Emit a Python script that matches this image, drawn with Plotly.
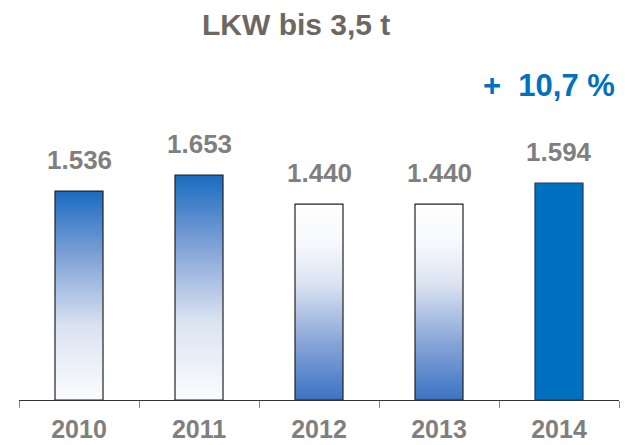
import plotly.graph_objects as go

years = ["2010", "2011", "2012", "2013", "2014"]
values = [1536, 1653, 1440, 1440, 1594]
# gradient style per bar: "down" = blue on top, "up" = blue at bottom, "solid"
styles = ["down", "down", "up", "up", "solid"]

BLUE = "#0070c0"
GRAY = "#7f7f7f"
FONT = "Liberation Sans, Arial, sans-serif"

GRAD_DOWN = [[0, "#fbfcfe"], [0.35, "#dbe3f1"], [0.7, "#7c9fd6"], [1, "#1a6bc0"]]
GRAD_UP = [[0, "#3a73c4"], [0.3, "#8aa6d8"], [0.6, "#dde4f2"], [0.8, "#f7f8fc"], [1, "#ffffff"]]


def de_num(v):
    # German thousands separator
    return f"{v:,}".replace(",", ".")


half = 0.2
fig = go.Figure()

for i, (v, st) in enumerate(zip(values, styles)):
    xs = [i - half, i + half, i + half, i - half, i - half]
    ys = [0, 0, v, v, 0]
    if st == "solid":
        fig.add_trace(go.Scatter(
            x=xs, y=ys, mode="lines", fill="toself", fillcolor=BLUE,
            line=dict(color="#1b3a66", width=1.2), hoverinfo="skip",
            showlegend=False))
    else:
        fig.add_trace(go.Scatter(
            x=xs, y=ys, mode="lines", fill="toself",
            fillgradient=dict(type="vertical",
                              colorscale=GRAD_DOWN if st == "down" else GRAD_UP,
                              start=0, stop=v),
            line=dict(color="#222222", width=1.2), hoverinfo="skip",
            showlegend=False))

# value labels above the bars
for i, v in enumerate(values):
    fig.add_annotation(x=i, y=v, text=f"<b>{de_num(v)}</b>",
                       showarrow=False, yanchor="bottom", yshift=14,
                       font=dict(family=FONT, size=26, color=GRAY))

change = (values[-1] - values[-2]) / values[-2] * 100
fig.add_annotation(
    text=f"<b>+  {change:.1f} %</b>".replace(".", ","),
    xref="paper", yref="paper", x=0.997, y=1,
    xanchor="right", yanchor="middle", yshift=-25, showarrow=False,
    font=dict(family=FONT, size=31, color=BLUE))

fig.add_annotation(
    text="<b>LKW bis 3,5 t</b>", xref="paper", yref="paper",
    x=(296 - 19) / 600, y=1, xanchor="center", yanchor="middle",
    yshift=36, showarrow=False,
    font=dict(family=FONT, size=30, color="#6d6763"))

fig.update_layout(
    width=625, height=445,
    margin=dict(l=19, r=6, t=60, b=45),
    paper_bgcolor="white", plot_bgcolor="white",
    font=dict(family=FONT),
    xaxis=dict(
        range=[-0.5, 4.5], tickvals=list(range(len(years))),
        ticktext=[f"<b>{y}</b>" for y in years],
        ticks="", showgrid=False, zeroline=False, showline=True,
        linecolor="#333333", linewidth=1, ticklabelstandoff=7,
        tickfont=dict(family=FONT, size=25, color=GRAY),
        minor=dict(tick0=-0.5, dtick=1, ticks="outside", ticklen=7,
                   tickcolor="#888888", tickwidth=1, showgrid=False),
        automargin=False, fixedrange=True,
    ),
    yaxis=dict(range=[0, 2500], visible=False, automargin=False,
               fixedrange=True),
)

fig.write_html("out.html", config={"displayModeBar": False},
               post_script="document.body.style.margin='0';")
